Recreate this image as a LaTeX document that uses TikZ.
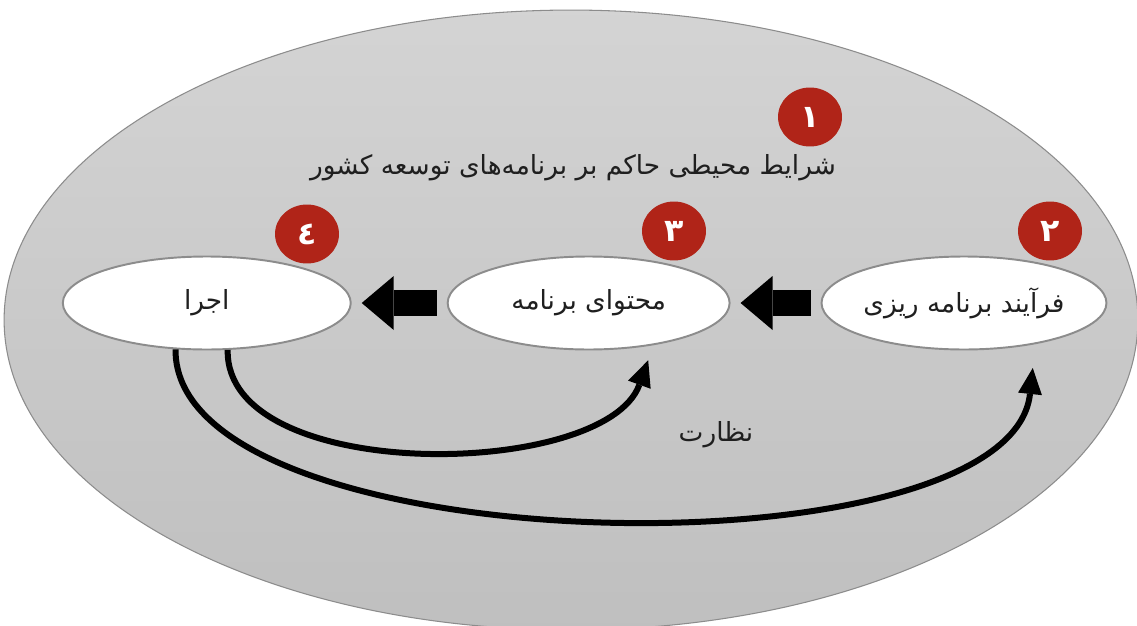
\documentclass[tikz,border=0pt]{standalone}
\usepackage{fontspec}
\usepackage{tikz}
\usetikzlibrary{arrows.meta,positioning,shapes.geometric}
\TeXXeTstate=1
\newfontfamily\arabicfont[Script=Arabic]{DejaVu Sans}
\definecolor{markRed}   {HTML}{B02418}
\definecolor{markEdge}  {gray}{0.55}
\definecolor{markTop}   {gray}{0.83}
\definecolor{markBottom}{gray}{0.75}
\definecolor{markText}  {gray}{0.12}

\begin{document}
\begin{tikzpicture}[x=0.02cm, y=-0.02cm,
      stage/.style={ellipse, draw=markEdge, line width=1.1pt, fill=white,
                    minimum width=5.7cm, minimum height=1.86cm, inner sep=0pt,
                    text=markText, font=\arabicfont\fontsize{15}{18}\selectfont},
      badge/.style={ellipse, fill=markRed, minimum width=1.28cm,
                    minimum height=1.18cm, inner sep=0pt, text=white,
                    font=\arabicfont\bfseries\fontsize{18}{20}\selectfont},
      push/.style={-{Triangle[length=0.64cm, width=1.08cm, line width=0pt]},
                   line width=0.52cm, draw=black, shorten <=0.2cm, shorten >=0.2cm},
      watch/.style={-{Triangle[length=0.52cm, width=0.48cm, line width=0pt]},
                    line width=0.12cm, draw=black}]

    \useasboundingbox[fill=white] (0,0) rectangle (1137,626);
    \shade[top color=markTop, bottom color=markBottom, draw=markEdge, line width=0.6pt]
      (571,320) ellipse [x radius=11.34cm, y radius=6.2cm];

    \node[text=markText, font=\arabicfont\fontsize{15}{18}\selectfont] (env) at (573,168)
      {\beginR شرایط محیطی حاکم بر برنامه‌های توسعه کشور\endR};

    \node[stage] (plan) at (964,303) {\beginR فرآیند برنامه ریزی\endR};
    \node[stage, left=1.8cm of plan, minimum width=5.64cm] (content) {\beginR محتوای برنامه\endR};
    \node[stage, left=1.9cm of content, minimum width=5.76cm] (exec) {\beginR اجرا\endR};

    \node[badge] (n1) at (810,117) {۱};
    \node[badge] (n2) at (1050,231) {۲};
    \node[badge] (n3) at (674,231) {۳};
    \node[badge] (n4) at (307,234) {٤};

    \draw[push] (plan) -- (content);
    \draw[push] (content) -- (exec);

    \draw[watch, shorten >=0.32cm] (exec.-66) .. controls (225,485) and (605,480) .. (content.-33);
    \draw[watch, shorten >=0.48cm] (exec.-124) .. controls (173,565) and (1010,580) .. (plan.-30);

    \node[text=markText, font=\arabicfont\fontsize{15}{18}\selectfont] (superv) at (716,435)
      {\beginR نظارت\endR};
\end{tikzpicture}
\end{document}
